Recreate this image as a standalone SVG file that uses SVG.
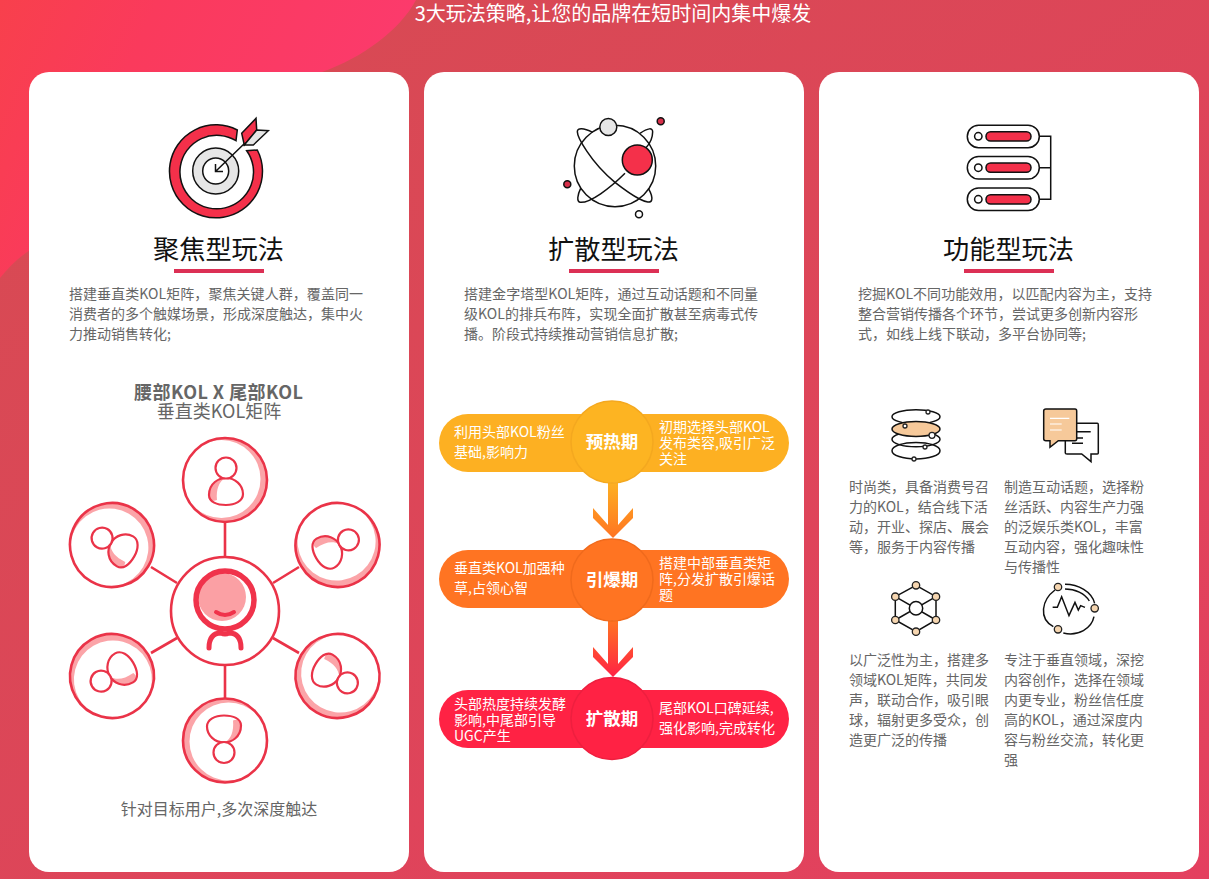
<svg xmlns="http://www.w3.org/2000/svg" xmlns:xlink="http://www.w3.org/1999/xlink" width="1209" height="879" viewBox="0 0 1209 879">
<defs>
<linearGradient id="bg" x1="0" y1="0" x2="1" y2="1"><stop offset="0" stop-color="#d64b52"/><stop offset="1" stop-color="#e4405f"/></linearGradient>
<linearGradient id="blob" x1="0" y1="0" x2="1" y2="0.3"><stop offset="0" stop-color="#f8404c"/><stop offset=".35" stop-color="#fa3a5c"/><stop offset="1" stop-color="#fc3a6e"/></linearGradient>
<linearGradient id="a1" gradientUnits="userSpaceOnUse" x1="0" y1="483" x2="0" y2="538"><stop offset="0" stop-color="#fdb022"/><stop offset="1" stop-color="#ff7422"/></linearGradient>
<linearGradient id="a2" gradientUnits="userSpaceOnUse" x1="0" y1="621" x2="0" y2="677"><stop offset="0" stop-color="#ff7422"/><stop offset="1" stop-color="#ff2244"/></linearGradient>
<g id="sat">
<circle r="42" fill="#fba4a8"/><circle cx="-3.500" cy="-1" r="39" fill="#fff"/><circle r="42" class="rl"/>
<path d="M-16 15C-16 3-6-2 1-2 10-2 18 5 18 14 18 21 10 25 1 25-8 25-16 22-16 15Z" fill="#fff"/>
<path d="M-16 15C-16 5-7-1 0-2-6 2-9 9-8 20-13 22-16 19-16 15Z" fill="#fba4a8"/>
<path d="M-16 15C-16 3-6-2 1-2 10-2 18 5 18 14 18 21 10 25 1 25-8 25-16 22-16 15Z" fill="none" class="rl2"/>
<circle cx="1" cy="-12" r="10.500" fill="#fff" class="rl2"/>
</g>
</defs>
<style>
text{font-family:"Noto Sans CJK SC","Noto Sans",sans-serif}
.rl{fill:none;stroke:#ea3348;stroke-width:2.6}
.rl2{stroke:#ea3348;stroke-width:2.2}
.card{fill:#fff}
.tt{font-size:26.2px;fill:#111;text-anchor:middle}
.ul{fill:#dc3055}
.d{font-size:14px;fill:#666}
.p{font-size:14px;fill:#fff}
.pr{font-size:14px;fill:#fff}
.c{font-size:17.500px;font-weight:700;fill:#fff;text-anchor:middle}
.k{fill:none;stroke:#111;stroke-width:1.5}
.kf{stroke:#111;stroke-width:1.5}
.n{fill:#f6d6b0;stroke:#222;stroke-width:1.3}
.w{fill:#fff;stroke:#222;stroke-width:1.3}
</style>
<rect width="1209" height="879" fill="url(#bg)"/>
<path d="M0 0H416C400 30 362 58 322 72L30 250C18 258 8 268 0 278Z" fill="url(#blob)"/>
<text x="613" y="21" font-size="20" fill="#fff" text-anchor="middle">3大玩法策略,让您的品牌在短时间内集中爆发</text>

<g id="card-focus">
<rect class="card" x="29" y="72" width="380" height="800" rx="20"/>
<g id="icon-target">
<path d="M237.300 130A46.500 46.500 0 1 0 257.300 150L246.700 150.700A36.800 36.800 0 1 1 236 140.700Z" fill="#f4304a" class="kf"/>
<circle cx="215.700" cy="171" r="23" fill="#e6e6e6" class="kf"/>
<circle cx="215.700" cy="171" r="13" fill="#fff" class="kf"/>
<path d="M215.500 171.500L245 143M215.500 164V171.500H223" class="k"/>
<path d="M241.700 133.300L256 118.300 256.700 130 244.300 145Z" fill="#f4304a" class="kf"/>
<path d="M256.700 130L268.300 130.700 253.300 145H244.300Z" fill="#e6e6e6" class="kf"/>
</g>
<text class="tt" x="218.500" y="259">聚焦型玩法</text>
<rect class="ul" x="174" y="269" width="90" height="4"/>
<text class="d" x="69" y="299" textLength="294">搭建垂直类KOL矩阵，聚焦关键人群，覆盖同一</text>
<text class="d" x="69" y="319" textLength="294">消费者的多个触媒场景，形成深度触达，集中火</text>
<text class="d" x="69" y="339">力推动销售转化;</text>
<text x="134" y="399" font-size="18" font-weight="700" fill="#666" textLength="169">腰部KOL X 尾部KOL</text>
<text x="219" y="418" font-size="18" fill="#666" text-anchor="middle">垂直类KOL矩阵</text>
<g id="kol-matrix">
<g id="matrix-connectors" class="rl">
<path d="M225 523V557M151 567L177 583M273 583L299 567M273 638L299 653M151 653L177 638M225 665V698"/>
</g>
<g id="sat-1"><use xlink:href="#sat" href="#sat" transform="translate(225 480)"/></g>
<g id="sat-2"><use xlink:href="#sat" href="#sat" transform="translate(337.500 545) rotate(60)"/></g>
<g id="sat-3"><use xlink:href="#sat" href="#sat" transform="translate(337.500 676) rotate(120)"/></g>
<g id="sat-4"><use xlink:href="#sat" href="#sat" transform="translate(225 740.500) rotate(180)"/></g>
<g id="sat-5"><use xlink:href="#sat" href="#sat" transform="translate(112 676) rotate(240)"/></g>
<g id="sat-6"><use xlink:href="#sat" href="#sat" transform="translate(112 545) rotate(300)"/></g>
<g id="sat-center">
<circle cx="225" cy="611" r="54" fill="#fff" class="rl"/>
<circle cx="222" cy="597" r="24" fill="#fba0a4"/>
<circle cx="225" cy="600" r="29" fill="none" stroke="#f0334b" stroke-width="5.500"/>
<path d="M216 612Q225 618 234 612" fill="none" stroke="#f0334b" stroke-width="4" stroke-linecap="round"/>
<path d="M209 648C209 637 214 633 221 633Q225 635 229 633C236 633 241 637 241 648" fill="none" stroke="#f0334b" stroke-width="5" stroke-linecap="round"/>
</g>
</g>
<text x="219" y="815" font-size="16" fill="#666" text-anchor="middle">针对目标用户,多次深度触达</text>
</g>

<g id="card-spread">
<rect class="card" x="424" y="72" width="380" height="800" rx="20"/>
<g id="icon-atom">
<circle cx="615" cy="166" r="40.700" class="k"/>
<g transform="translate(540 105) scale(.3333)" fill="none" stroke="#111" stroke-width="4.500">
<path d="M158 82C130 68 112 68 112 80 112 95 150 170 225 232 280 275 330 305 335 285 338 275 332 262 325 250"/>
<path d="M300 85C325 68 338 68 338 80 338 95 330 115 318 128M255 205C210 250 150 295 120 292 110 290 112 270 122 250"/>
</g>
<circle cx="608.300" cy="127" r="8.500" fill="#e6e6e6" class="kf"/>
<circle cx="637.300" cy="160" r="15" fill="#f4304a" class="kf"/>
<circle cx="660.700" cy="121.300" r="3.500" fill="#d8304a" class="kf"/>
<circle cx="567.300" cy="184.300" r="3.500" fill="#d8304a" class="kf"/>
<circle cx="639" cy="214.300" r="3.500" fill="#fff" class="kf"/>
</g>
<text class="tt" x="613.500" y="259">扩散型玩法</text>
<rect class="ul" x="569" y="269" width="90" height="4"/>
<text class="d" x="464" y="299" textLength="294">搭建金字塔型KOL矩阵，通过互动话题和不同量</text>
<text class="d" x="464" y="319" textLength="294">级KOL的排兵布阵，实现全面扩散甚至病毒式传</text>
<text class="d" x="464" y="339">播。阶段式持续推动营销信息扩散;</text>
</g>

<g id="connectors">
<path d="M608 483H618V525L633 508V518L613 538 593 518V508L608 525Z" fill="url(#a1)"/>
<path d="M608 621H618V664L633 647V657L613 677 593 657V647L608 664Z" fill="url(#a2)"/>
</g>

<g id="stage-1">
<rect x="439" y="414" width="350" height="58" rx="29" fill="#fdb022"/>
<circle cx="612" cy="442" r="41" fill="#fdb422" stroke="#f4a81f" stroke-width="1.500"/>
<text class="c" x="612" y="448">预热期</text>
<text class="p" x="454" y="436.500">利用头部KOL粉丝</text><text class="p" x="454" y="456.500">基础,影响力</text>
<text class="pr" x="659" y="432">初期选择头部KOL</text><text class="pr" x="659" y="448">发布类容,吸引广泛</text><text class="pr" x="659" y="464">关注</text>
</g>
<g id="stage-2">
<rect x="439" y="550" width="350" height="58" rx="29" fill="#ff7422"/>
<circle cx="612" cy="580" r="41" fill="#ff7422" stroke="#f06a1c" stroke-width="1.500"/>
<text class="c" x="612" y="586">引爆期</text>
<text class="p" x="454" y="572.500">垂直类KOL加强种</text><text class="p" x="454" y="592.500">草,占领心智</text>
<text class="pr" x="659" y="568">搭建中部垂直类矩</text><text class="pr" x="659" y="584">阵,分发扩散引爆话</text><text class="pr" x="659" y="600">题</text>
</g>
<g id="stage-3">
<rect x="439" y="690" width="350" height="58" rx="29" fill="#ff2244"/>
<circle cx="612" cy="718.500" r="41" fill="#ff2244" stroke="#ee1f3f" stroke-width="1.500"/>
<text class="c" x="612" y="725">扩散期</text>
<text class="p" x="454" y="709">头部热度持续发酵</text><text class="p" x="454" y="725">影响,中尾部引导</text><text class="p" x="454" y="741">UGC产生</text>
<text class="pr" x="659" y="713">尾部KOL口碑延续,</text><text class="pr" x="659" y="733">强化影响,完成转化</text>
</g>

<g id="card-function">
<rect class="card" x="819" y="72" width="380" height="800" rx="20"/>
<g id="icon-server">
<path d="M1039.300 136.300H1050.700V199.300H1039.300M1039.300 167.700H1050.700" class="k"/>
<rect x="967.300" y="125.200" width="72" height="22.500" rx="11.250" fill="#fff" class="kf"/>
<rect x="967.300" y="156.500" width="72" height="22.500" rx="11.250" fill="#fff" class="kf"/>
<rect x="967.300" y="188" width="72" height="22.500" rx="11.250" fill="#fff" class="kf"/>
<circle cx="978.300" cy="136.300" r="3.700" fill="#fff" class="kf"/><rect x="986" y="131.700" width="45" height="9.300" rx="4.600" fill="#f4304a" class="kf"/>
<circle cx="978.300" cy="167.700" r="3.700" fill="#fff" class="kf"/><rect x="986" y="163" width="45" height="9.300" rx="4.600" fill="#f4304a" class="kf"/>
<circle cx="978.300" cy="199.300" r="3.700" fill="#fff" class="kf"/><rect x="986" y="194.700" width="45" height="9.300" rx="4.600" fill="#f4304a" class="kf"/>
</g>
<text class="tt" x="1008.500" y="259">功能型玩法</text>
<rect class="ul" x="964" y="269" width="90" height="4"/>
<text class="d" x="858" y="299" textLength="294">挖掘KOL不同功能效用，以匹配内容为主，支持</text>
<text class="d" x="858" y="319">整合营销传播各个环节，尝试更多创新内容形</text>
<text class="d" x="858" y="339">式，如线上线下联动，多平台协同等;</text>

<g id="fn-fashion">
<ellipse cx="916" cy="450.700" rx="24" ry="8.300" class="k"/>
<ellipse cx="916" cy="439.300" rx="24" ry="7.500" class="k"/>
<ellipse cx="916" cy="416.700" rx="24" ry="7" class="k"/>
<ellipse cx="916" cy="429" rx="24" ry="7.500" fill="#f6c99a" class="kf"/>
<circle cx="928" cy="412" r="2" class="w"/><circle cx="905" cy="426" r="2" class="w"/><circle cx="932" cy="435.300" r="3" class="w"/><circle cx="925" cy="447" r="2" class="w"/><circle cx="914" cy="459" r="2" class="w"/>
<text class="d" y="492"><tspan x="849">时尚类，具备消费号召</tspan><tspan x="849" dy="20">力的KOL，结合线下活</tspan><tspan x="849" dy="20">动，开业、探店、展会</tspan><tspan x="849" dy="20">等，服务于内容传播</tspan></text>
</g>
<g id="fn-chat">
<path d="M1065.300 423.300H1097.300Q1098.300 423.300 1098.300 425V453Q1098.300 454 1097.300 454H1091V461.700L1081.700 454H1067Q1065.300 454 1065.300 453Z" fill="#fff" class="kf"/>
<path d="M1076 431.700H1090.700M1076 438H1083M1072 443.300H1083" class="k"/>
<path d="M1046 409H1075Q1076.700 409 1076.700 411V438.700Q1076.700 440.700 1075 440.700H1058.300L1050 447.300V440.700H1046Q1043.700 440.700 1043.700 438.700V411Q1043.700 409 1046 409Z" fill="#f6c99a" class="kf"/>
<path d="M1050 418.300H1069.300M1050 424H1061.700M1050 430H1061.700" fill="none" stroke="#fff" stroke-width="1.200"/>
<text class="d" y="492"><tspan x="1004">制造互动话题，选择粉</tspan><tspan x="1004" dy="20">丝活跃、内容生产力强</tspan><tspan x="1004" dy="20">的泛娱乐类KOL，丰富</tspan><tspan x="1004" dy="20">互动内容，强化趣味性</tspan><tspan x="1004" dy="20">与传播性</tspan></text>
</g>
<g id="fn-reach">
<path d="M916 585.300L936 596.700V620L916 631.700 895.300 620V596.700ZM895.300 596.700L936 620M936 596.700L895.300 620" class="k"/>
<circle cx="916" cy="608.300" r="6.700" fill="#fff" class="kf"/>
<circle cx="916" cy="585.300" r="3.700" class="n"/><circle cx="936" cy="596.700" r="3.700" class="n"/><circle cx="936" cy="620" r="3.700" class="n"/><circle cx="916" cy="631.700" r="3.700" class="n"/><circle cx="895.300" cy="620" r="3.700" class="n"/><circle cx="895.300" cy="596.700" r="3.700" class="n"/>
<text class="d" y="665"><tspan x="849">以广泛性为主，搭建多</tspan><tspan x="849" dy="20">领域KOL矩阵，共同发</tspan><tspan x="849" dy="20">声，联动合作，吸引眼</tspan><tspan x="849" dy="20">球，辐射更多受众，创</tspan><tspan x="849" dy="20">造更广泛的传播</tspan></text>
</g>
<g id="fn-vertical">
<g transform="translate(870 575) scale(.3333)" fill="none" stroke="#111" stroke-width="4.500">
<path d="M555 45C515 75 505 130 550 155M580 174C625 185 665 160 672 125M585 28C625 28 665 50 674 85M585 42C615 42 645 55 658 78"/>
<path d="M548 97H562L575 65 597 122 615 82 625 105 632 92 645 97"/>
</g>
<circle cx="1058" cy="587" r="3.700" class="n"/><circle cx="1094.700" cy="608.300" r="3.700" class="n"/><circle cx="1058" cy="629.300" r="3.700" class="n"/>
<text class="d" y="665"><tspan x="1004">专注于垂直领域，深挖</tspan><tspan x="1004" dy="20">内容创作，选择在领域</tspan><tspan x="1004" dy="20">内更专业，粉丝信任度</tspan><tspan x="1004" dy="20">高的KOL，通过深度内</tspan><tspan x="1004" dy="20">容与粉丝交流，转化更</tspan><tspan x="1004" dy="20">强</tspan></text>
</g>
</g>
</svg>
